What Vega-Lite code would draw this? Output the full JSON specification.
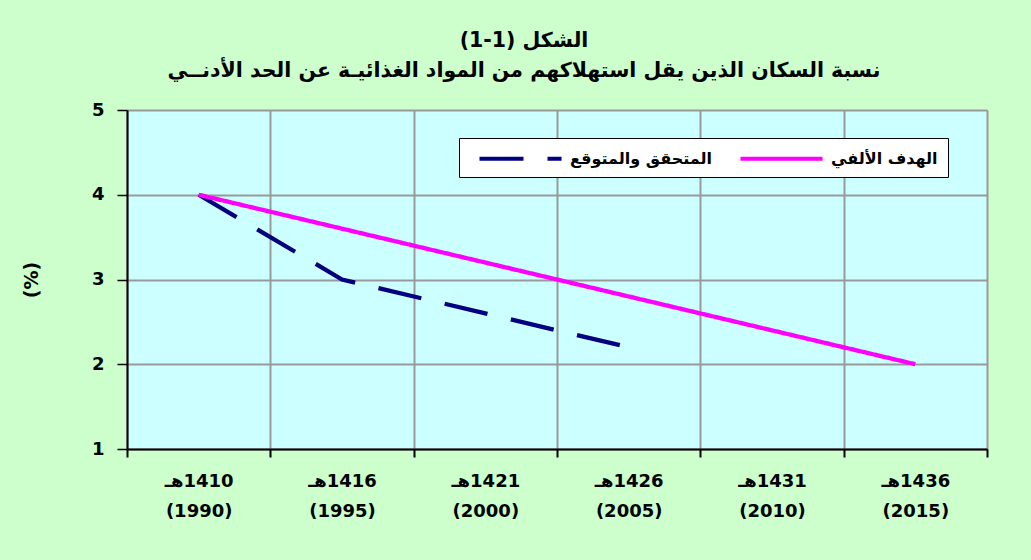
{
  "$schema": "https://vega.github.io/schema/vega-lite/v6.json",
  "width": 860,
  "height": 339,
  "autosize": {"type": "none"},
  "padding": {"left": 127, "top": 110, "right": 44, "bottom": 111},
  "background": "#ccffcc",
  "config": {
    "view": {"fill": "#ccffff", "stroke": null},
    "font": "DejaVu Sans"
  },
  "title": {
    "text": ["\u202bالشكل (1-1)\u202c", "\u202bنسبة السكان الذين يقل استهلاكهم من المواد الغذائيـة عن الحد الأدنــي\u202c"],
    "anchor": "middle",
    "frame": "group",
    "dx": -33,
    "offset": 20,
    "fontSize": 20.5,
    "fontWeight": "bold",
    "lineHeight": 30,
    "color": "#000000",
    "font": "DejaVu Sans"
  },
  "data": {
    "values": [
      {"period": "1410هـ|(1990)", "series": "المتحقق والمتوقع", "value": 4},
      {"period": "1416هـ|(1995)", "series": "المتحقق والمتوقع", "value": 3},
      {"period": "1421هـ|(2000)", "series": "المتحقق والمتوقع", "value": 2.6},
      {"period": "1426هـ|(2005)", "series": "المتحقق والمتوقع", "value": 2.2},
      {"period": "1410هـ|(1990)", "series": "الهدف الألفي", "value": 4},
      {"period": "1436هـ|(2015)", "series": "الهدف الألفي", "value": 2}
    ]
  },
  "mark": {"type": "line", "strokeWidth": 4.3, "strokeCap": "butt"},
  "encoding": {
    "x": {
      "field": "period",
      "type": "nominal",
      "bandPosition": 0.5,
      "scale": {
        "type": "band",
        "domain": ["1410هـ|(1990)", "1416هـ|(1995)", "1421هـ|(2000)", "1426هـ|(2005)", "1431هـ|(2010)", "1436هـ|(2015)"],
        "paddingInner": 0,
        "paddingOuter": 0
      },
      "axis": {
        "title": null,
        "labelAngle": 0,
        "tickBand": "extent",
        "labelExpr": "datum.value ? split('\u200f' + datum.value, '|') : ''",
        "labelFont": "DejaVu Sans",
        "labelFontSize": 18,
        "labelFontWeight": "bold",
        "labelColor": "#000000",
        "labelBaseline": "top",
        "labelLineHeight": 30,
        "labelPadding": 15,
        "tickSize": 8,
        "tickColor": "#000000",
        "tickWidth": 2,
        "domainColor": "#000000",
        "domainWidth": 2,
        "grid": true,
        "gridColor": "#999999",
        "gridWidth": 2
      }
    },
    "y": {
      "field": "value",
      "type": "quantitative",
      "scale": {"domain": [1, 5], "nice": false},
      "axis": {
        "title": "(%)",
        "titleFont": "DejaVu Sans",
        "titleFontSize": 19,
        "titleFontWeight": "bold",
        "titleColor": "#000000",
        "titlePadding": 50,
        "values": [1, 2, 3, 4, 5],
        "labelFont": "DejaVu Sans",
        "labelFontSize": 18,
        "labelFontWeight": "bold",
        "labelColor": "#000000",
        "labelPadding": 13,
        "tickSize": 10,
        "tickColor": "#000000",
        "tickWidth": 1.5,
        "domainColor": "#000000",
        "domainWidth": 2,
        "grid": true,
        "gridColor": "#999999",
        "gridWidth": 2
      }
    },
    "color": {
      "field": "series",
      "type": "nominal",
      "scale": {"domain": ["المتحقق والمتوقع", "الهدف الألفي"], "range": ["#000080", "#ff00ff"]},
      "legend": {
        "title": null,
        "orient": "none",
        "legendX": 332,
        "legendY": 28,
        "direction": "horizontal",
        "columns": 2,
        "fillColor": "#ffffff",
        "strokeColor": "#000000",
        "padding": 10,
        "symbolType": "M0,0H10",
        "symbolSize": 269,
        "symbolStrokeWidth": 4,
        "labelFont": "DejaVu Sans",
        "labelFontSize": 16,
        "labelFontWeight": "bold",
        "labelColor": "#000000",
        "labelOffset": 80,
        "columnPadding": 18
      }
    },
    "strokeDash": {
      "field": "series",
      "type": "nominal",
      "scale": {"domain": ["المتحقق والمتوقع", "الهدف الألفي"], "range": [[44, 24], [1, 0]]},
      "legend": {
        "title": null,
        "orient": "none",
        "legendX": 332,
        "legendY": 28,
        "direction": "horizontal",
        "columns": 2,
        "fillColor": "#ffffff",
        "strokeColor": "#000000",
        "padding": 10,
        "symbolType": "M0,0H10",
        "symbolSize": 269,
        "symbolStrokeWidth": 4,
        "labelFont": "DejaVu Sans",
        "labelFontSize": 16,
        "labelFontWeight": "bold",
        "labelColor": "#000000",
        "labelOffset": 80,
        "columnPadding": 18
      }
    }
  }
}
